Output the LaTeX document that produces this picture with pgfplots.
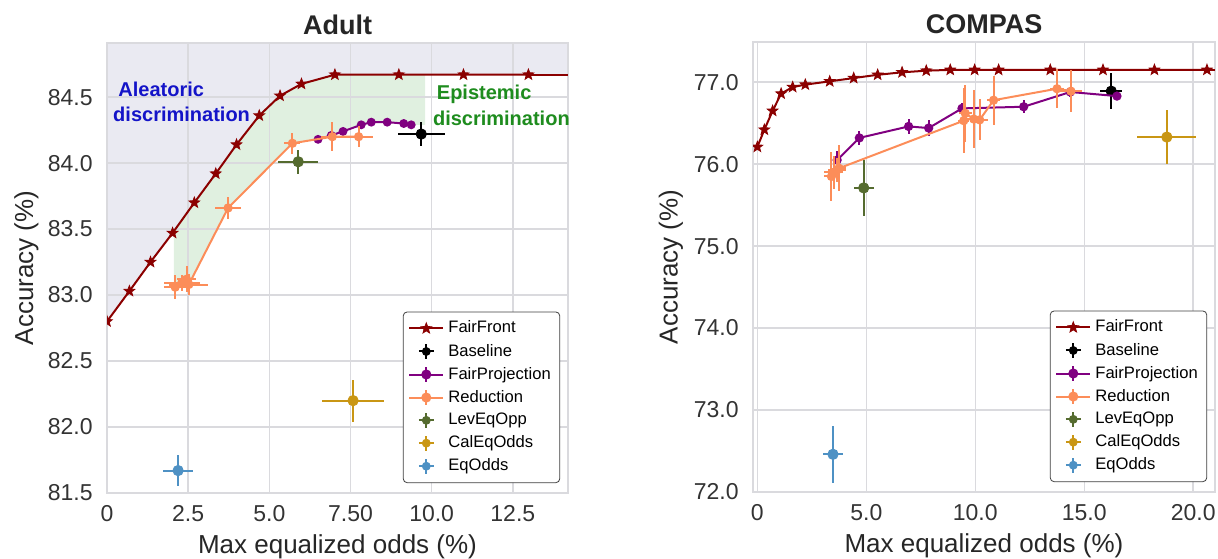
\documentclass[border=0pt]{standalone}
\usepackage{fontspec}
\setmainfont{Liberation Sans}
\usepackage{pgfplots}
\pgfplotsset{compat=1.18}

\definecolor{ffred}{RGB}{139,0,0}
\definecolor{fppurple}{RGB}{128,0,128}
\definecolor{redorange}{RGB}{252,141,89}
\definecolor{levgreen}{RGB}{85,107,47}
\definecolor{calgold}{RGB}{201,150,20}
\definecolor{eqblue}{RGB}{78,145,196}
\definecolor{lavbg}{RGB}{234,234,242}
\definecolor{epigreen}{RGB}{224,240,224}
\definecolor{gridgray}{RGB}{218,218,222}
\definecolor{annblue}{RGB}{20,20,200}
\definecolor{anngreen}{RGB}{30,140,30}

% filled five point star
\pgfdeclareplotmark{fstar}{%
  \pgfpathmoveto{\pgfpointpolar{90}{\pgfplotmarksize}}%
  \pgfpathlineto{\pgfpointpolar{126}{0.42\pgfplotmarksize}}%
  \pgfpathlineto{\pgfpointpolar{162}{\pgfplotmarksize}}%
  \pgfpathlineto{\pgfpointpolar{198}{0.42\pgfplotmarksize}}%
  \pgfpathlineto{\pgfpointpolar{234}{\pgfplotmarksize}}%
  \pgfpathlineto{\pgfpointpolar{270}{0.42\pgfplotmarksize}}%
  \pgfpathlineto{\pgfpointpolar{306}{\pgfplotmarksize}}%
  \pgfpathlineto{\pgfpointpolar{342}{0.42\pgfplotmarksize}}%
  \pgfpathlineto{\pgfpointpolar{18}{\pgfplotmarksize}}%
  \pgfpathlineto{\pgfpointpolar{54}{0.42\pgfplotmarksize}}%
  \pgfpathclose
  \pgfusepathqfillstroke
}

\pgfplotsset{
  panel/.style={
    scale only axis, width=230.5pt, height=225pt,
    set layers, clip marker paths=true,
    axis line style={draw=gridgray, line width=0.8pt},
    grid=major, major grid style={draw=gridgray, line width=0.75pt},
    tick style={draw=none},
    ticklabel style={font=\fontsize{11.5}{12}\selectfont, text=black!80},
    xticklabel style={anchor=center, inner sep=0pt, yshift=-10.5pt},
    yticklabel style={anchor=east, inner sep=0pt, xshift=-7pt},
    label style={font=\fontsize{13}{14}\selectfont, text=black!85},
    xlabel style={at={(axis description cs:0.5,-0.12)}, anchor=center},
    title style={font=\bfseries\fontsize{13.5}{14}\selectfont, text=black!85, at={(axis description cs:0.5,1)}, anchor=south, yshift=-5.5pt},
    legend style={at={(0.983,0.022)}, anchor=south east, draw=black!75,
      rounded corners=2pt, font=\fontsize{8.3}{10}\selectfont, row sep=0pt, inner sep=2.5pt},
    legend cell align=left,
  },
  front/.style={color=ffred, line width=1pt, mark=fstar, mark size=2.8pt, mark options={line width=0.4pt}},
  errpt/.style={only marks, mark=*, mark size=2.6pt, color=#1,
    /pgfplots/error bars/x dir=both, /pgfplots/error bars/x explicit,
    /pgfplots/error bars/y dir=both, /pgfplots/error bars/y explicit,
    /pgfplots/error bars/error mark=none,
    /pgfplots/error bars/error bar style={line width=1pt},
    legend image code/.code={\draw[line width=1pt] (0.3cm,-0.13cm)--(0.3cm,0.13cm) (0.17cm,0cm)--(0.43cm,0cm); \fill (0.3cm,0cm) circle (2pt);}},
  errline/.style={mark=*, mark size=1.8pt, color=#1, line width=1pt,
    /pgfplots/error bars/x dir=both, /pgfplots/error bars/x explicit,
    /pgfplots/error bars/y dir=both, /pgfplots/error bars/y explicit,
    /pgfplots/error bars/error mark=none,
    /pgfplots/error bars/error bar style={line width=1pt},
    legend image code/.code={\draw[line width=1pt] (0cm,0cm)--(0.6cm,0cm) (0.3cm,-0.13cm)--(0.3cm,0.13cm); \fill (0.3cm,0cm) circle (2pt);}},
}

\begin{document}
\begin{tikzpicture}

% ---------------- Adult ----------------
\begin{axis}[panel, at={(0pt,0pt)}, anchor=south west,
  title={Adult},
  xmin=0, xmax=14.2, ymin=81.5, ymax=84.91,
  xtick={0,2.5,5,7.5,10,12.5}, xticklabels={0,2.5,5.0,7.50,10.0,12.5},
  ytick={81.5,82,82.5,83,83.5,84,84.5}, yticklabels={81.5,82.0,82.5,83.0,83.5,84.0,84.5},
  xlabel={Max equalized odds (\%)}, ylabel={Accuracy (\%)},
  ylabel style={at={(axis description cs:-0.1746,0.5)}, anchor=center},
]
% aleatoric region (above the front)
\addplot[fill=lavbg, draw=none, forget plot, on layer=axis background] coordinates {
  (0,82.80) (0.69,83.03) (1.34,83.25) (2.02,83.47) (2.69,83.70) (3.35,83.92)
  (3.99,84.14) (4.69,84.36) (5.33,84.51) (5.99,84.60) (7.02,84.67) (14.2,84.67)
  (14.2,84.91) (0,84.91)};
% epistemic region (between front and methods)
\addplot[fill=epigreen, draw=none, forget plot, on layer=axis background] coordinates {
  (2.06,83.48) (2.69,83.70) (3.35,83.92) (3.99,84.14) (4.69,84.36) (5.33,84.51)
  (5.99,84.60) (7.02,84.67) (9.8,84.67) (9.8,84.29) (9.37,84.29) (9.14,84.30)
  (8.63,84.31) (8.14,84.31) (7.83,84.29) (7.27,84.24) (6.91,84.21) (6.50,84.18)
  (5.71,84.15) (3.73,83.66) (2.52,83.07) (2.06,83.07)};

\addplot[front] coordinates {
  (0,82.80) (0.69,83.03) (1.34,83.25) (2.02,83.47) (2.69,83.70) (3.35,83.92)
  (3.99,84.14) (4.69,84.36) (5.33,84.51) (5.99,84.60) (7.02,84.67) (8.99,84.67)
  (10.98,84.67) (12.98,84.67)};
\addlegendentry{FairFront}
\addplot[errpt=black] table[x=x, y=y, x error=ex, y error=ey] {
x y ex ey
9.68 84.22 0.72 0.09
};
\addlegendentry{Baseline}
\addplot[errline=fppurple, mark size=1.7pt] table[x=x, y=y, x error=ex, y error=ey] {
x y ex ey
6.50 84.18 0.05 0.02
6.91 84.21 0.05 0.02
7.27 84.24 0.05 0.02
7.83 84.29 0.05 0.02
8.14 84.31 0.05 0.02
8.63 84.31 0.05 0.02
9.14 84.30 0.05 0.02
9.37 84.29 0.05 0.02
};
\addlegendentry{FairProjection}
\addplot[errline=redorange] table[x=x, y=y, x error=ex, y error=ey] {
x y ex ey
2.10 83.06 0.35 0.09
2.30 83.09 0.55 0.06
2.45 83.12 0.30 0.10
2.52 83.08 0.60 0.08
3.73 83.66 0.40 0.08
5.71 84.15 0.25 0.08
6.94 84.20 0.35 0.11
7.75 84.20 0.45 0.08
};
\addlegendentry{Reduction}
\addplot[errpt=levgreen] table[x=x, y=y, x error=ex, y error=ey] {
x y ex ey
5.89 84.01 0.62 0.09
};
\addlegendentry{LevEqOpp}
\addplot[errpt=calgold] table[x=x, y=y, x error=ex, y error=ey] {
x y ex ey
7.58 82.20 0.96 0.16
};
\addlegendentry{CalEqOdds}
\addplot[errpt=eqblue] table[x=x, y=y, x error=ex, y error=ey] {
x y ex ey
2.19 81.67 0.46 0.12
};
\addlegendentry{EqOdds}
\addplot[color=ffred, line width=1pt, forget plot] coordinates {(12.98,84.67) (14.2,84.67)};

\node[font=\bfseries\fontsize{10}{11}\selectfont, text=annblue, anchor=west, inner sep=0pt] at (axis cs:0.34,84.56) {Aleatoric};
\node[font=\bfseries\fontsize{10}{11}\selectfont, text=annblue, anchor=west, inner sep=0pt] at (axis cs:0.18,84.37) {discrimination};
\node[font=\bfseries\fontsize{10}{11}\selectfont, text=anngreen, anchor=west, inner sep=0pt] at (axis cs:10.15,84.52) {Epistemic};
\node[font=\bfseries\fontsize{10}{11}\selectfont, text=anngreen, anchor=west, inner sep=0pt] at (axis cs:10.03,84.34) {discrimination};
\end{axis}

% ---------------- COMPAS ----------------
\begin{axis}[panel, at={(323pt,0.5pt)}, anchor=south west, width=231pt,
  title={COMPAS},
  xmin=-0.2, xmax=21.0, ymin=72.0, ymax=77.49,
  xtick={0,5,10,15,20}, xticklabels={0,5.0,10.0,15.0,20.0},
  ytick={72,73,74,75,76,77}, yticklabels={72.0,73.0,74.0,75.0,76.0,77.0},
  xlabel={Max equalized odds (\%)}, ylabel={Accuracy (\%)},
  ylabel style={at={(axis description cs:-0.1775,0.5)}, anchor=center},
]
\addplot[front] coordinates {
  (0,76.21) (0.32,76.42) (0.70,76.65) (1.09,76.86) (1.62,76.94) (2.20,76.97)
  (3.32,77.01) (4.42,77.05) (5.52,77.09) (6.64,77.12) (7.75,77.14) (8.85,77.15)
  (9.97,77.15) (11.07,77.15) (13.44,77.15) (15.86,77.15) (18.22,77.15) (20.63,77.15)};
\addlegendentry{FairFront}
\addplot[errpt=black] table[x=x, y=y, x error=ex, y error=ey] {
x y ex ey
16.24 76.89 0.50 0.22
};
\addlegendentry{Baseline}
\addplot[errline=fppurple] table[x=x, y=y, x error=ex, y error=ey] {
x y ex ey
3.66 76.05 0.10 0.11
4.68 76.32 0.10 0.09
6.94 76.46 0.12 0.09
7.86 76.44 0.12 0.10
9.39 76.68 0.12 0.06
12.22 76.70 0.12 0.08
14.36 76.88 0.12 0.06
16.50 76.83 0.12 0.04
};
\addlegendentry{FairProjection}
\addplot[errline=redorange] table[x=x, y=y, x error=ex, y error=ey] {
x y ex ey
3.40 75.85 0.35 0.30
3.50 75.90 0.45 0.20
3.65 75.93 0.40 0.15
3.75 75.95 0.30 0.28
9.47 76.53 0.25 0.40
9.54 76.62 0.30 0.35
9.93 76.55 0.30 0.35
10.20 76.54 0.40 0.25
10.84 76.78 0.30 0.30
13.75 76.92 0.30 0.24
14.39 76.89 0.50 0.26
};
\addlegendentry{Reduction}
\addplot[errpt=levgreen] table[x=x, y=y, x error=ex, y error=ey] {
x y ex ey
4.88 75.71 0.46 0.34
};
\addlegendentry{LevEqOpp}
\addplot[errpt=calgold] table[x=x, y=y, x error=ex, y error=ey] {
x y ex ey
18.79 76.33 1.35 0.33
};
\addlegendentry{CalEqOdds}
\addplot[errpt=eqblue] table[x=x, y=y, x error=ex, y error=ey] {
x y ex ey
3.47 72.46 0.46 0.35
};
\addlegendentry{EqOdds}
\addplot[color=ffred, line width=1pt, forget plot] coordinates {(20.63,77.15) (21.0,77.15)};
\end{axis}

\pgfresetboundingbox
\useasboundingbox (-53.5pt,-32.5pt) rectangle (555.5pt,246.5pt);
\end{tikzpicture}
\end{document}
